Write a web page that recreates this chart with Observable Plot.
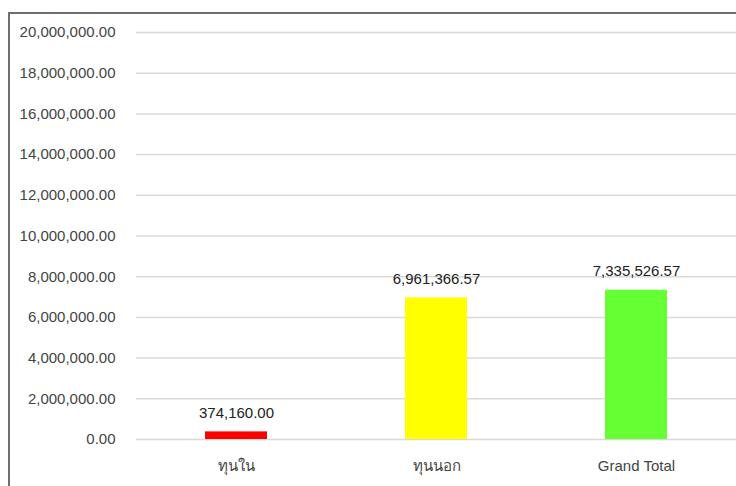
<!DOCTYPE html>
<html>
<head>
<meta charset="utf-8">
<script src="https://cdn.jsdelivr.net/npm/d3@7"></script>
<script src="https://cdn.jsdelivr.net/npm/@observablehq/plot@0.6"></script>
<style>
  body { margin: 0; background: #fff; font-family: "Liberation Sans", Arial, sans-serif; }
  #wrap { position: relative; width: 736px; height: 486px; overflow: hidden; }
  #frame { position: absolute; left: 8px; top: 12px; width: 800px; height: 600px; border: 2px solid #6e6e6e; pointer-events: none; box-sizing: border-box; }
</style>
</head>
<body>
<div id="wrap"><div id="chart"></div><div id="frame"></div></div>
<script>
const categories = ["ทุนใน", "ทุนนอก", "Grand Total"];
const values = [374160.00, 6961366.57, 7335526.57];
const colors = ["#ff0000", "#ffff00", "#66ff33"];
const yTicks = [0, 2000000, 4000000, 6000000, 8000000, 10000000, 12000000, 14000000, 16000000, 18000000, 20000000];

const data = categories.map((c, i) => ({ category: c, value: values[i], color: colors[i] }));
const fmt = d3.format(",.2f");

const chart = Plot.plot({
  width: 736,
  height: 486,
  marginLeft: 136,
  marginRight: 0,
  marginTop: 32,
  marginBottom: 47,
  style: { fontFamily: "'Liberation Sans', Arial, sans-serif", fontSize: "15px", background: "#fff" },
  x: { domain: categories, paddingInner: 0.69, paddingOuter: 0.345, label: null },
  y: { domain: [0, 20000000], ticks: yTicks, label: null },
  marks: [
    Plot.gridY(yTicks, { stroke: "#d9d9d9", strokeOpacity: 1, strokeWidth: 1.5 }),
    Plot.axisY(yTicks, { tickSize: 0, tickPadding: 21, tickFormat: fmt, fill: "#444", fontSize: 15, label: null }),
    Plot.axisX({ tickSize: 0, tickPadding: 21, fill: "#444", fontSize: 15, label: null }),
    Plot.barY(data, { x: "category", y: "value", fill: "color" }),
    Plot.text(data, { x: "category", y: "value", text: d => fmt(d.value), dy: -19, fill: "#222", fontSize: 15 })
  ]
});
document.getElementById("chart").appendChild(chart);
</script>
</body>
</html>
